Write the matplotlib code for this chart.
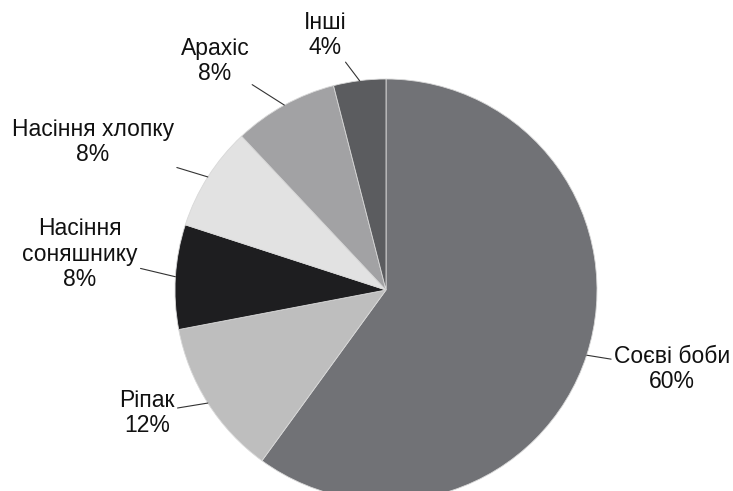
import numpy as np
import matplotlib
matplotlib.use('Agg')
from matplotlib import pyplot as plt

# частки (%) за годинниковою стрілкою від верху
kategorii = ['Соєві боби', 'Ріпак', 'Насіння\nсоняшнику', 'Насіння хлопку', 'Арахіс', 'Інші']
vrednosti = [60, 12, 8, 8, 8, 4]
barve = ['#717276', '#bebebe', '#1e1e20', '#e2e2e2', '#a2a2a4', '#5b5c5f']

# kje stoji napis (piksli slike), center bloka
napisi_px = [(672, 369), (147, 413), (80, 254), (93, 142), (215, 61), (325, 35)]

W, H = 733, 491
cx, cy, R = 386, 290, 211

plt.rcParams['font.family'] = ['Liberation Sans', 'DejaVu Sans']

fig = plt.figure(figsize=(W / 100, H / 100), dpi=100)
ax = fig.add_axes([0, 0, 1, 1])

wedges, _ = ax.pie(vrednosti, colors=barve, startangle=90, counterclock=False,
                   radius=1, center=(0, 0), frame=True,
                   wedgeprops=dict(edgecolor='#d8d8d8', linewidth=0.6))
ax.set_xlim(-cx / R, (W - cx) / R)
ax.set_ylim(-(H - cy) / R, cy / R)
ax.set_aspect('equal')
ax.axis('off')

for w, ime, v, (px, py) in zip(wedges, kategorii, vrednosti, napisi_px):
    kot = np.deg2rad((w.theta1 + w.theta2) / 2)
    rob = (np.cos(kot), np.sin(kot))
    tx = (px - cx) / R
    ty = (cy - py) / R
    ax.annotate(f'{ime}\n{v}%', xy=rob, xytext=(tx, ty),
                ha='center', va='center', multialignment='center',
                fontsize=16.5, color='#111111', linespacing=1.15,
                arrowprops=dict(arrowstyle='-', color='#333333', lw=0.8,
                                shrinkA=0, shrinkB=0))

fig.savefig('out.png', dpi=100)
